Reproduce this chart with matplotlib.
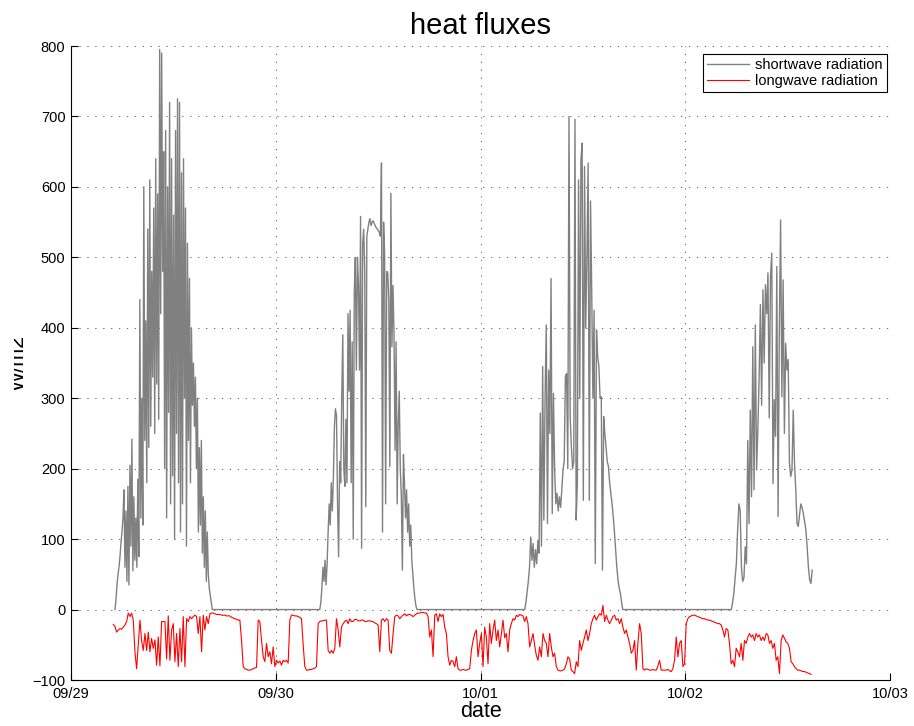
import numpy as np
import matplotlib
matplotlib.use('Agg')
import matplotlib.pyplot as plt
from matplotlib.transforms import Bbox, TransformedBbox

# x axis is in days since 09/29 00:00
date_labels = ['09/29', '09/30', '10/01', '10/02', '10/03']
yticks = [-100, 0, 100, 200, 300, 400, 500, 600, 700, 800]

# shortwave radiation, one burst per day (start day, end day, values W/m2)
sw_day1_span = (0.215, 0.690)
sw_day1 = [0, 15, 35, 50, 60, 75, 95, 110, 130, 170, 60, 140, 40, 175, 35, 205, 90, 242, 55, 160,
           70, 130, 60, 185, 75, 440, 130, 300, 120, 600, 240, 410, 180, 540, 230, 610, 260, 480, 330, 570,
           250, 640, 320, 590, 270, 795, 420, 790, 480, 650, 200, 680, 130, 600, 280, 720, 150, 640, 190, 560,
           100, 680, 250, 725, 180, 720, 110, 620, 150, 640, 300, 570, 90, 520, 240, 470, 180, 400, 290, 350,
           260, 330, 200, 300, 110, 230, 120, 240, 80, 160, 60, 140, 40, 110, 50, 30, 20, 10, 0]

sw_day2_span = (1.215, 1.690)
sw_day2 = [0, 10, 30, 60, 40, 70, 35, 65, 110, 150, 120, 180, 140, 186, 260, 285, 275, 150, 75, 210,
           180, 300, 390, 200, 175, 270, 180, 420, 310, 425, 180, 380, 100, 450, 500, 340, 500, 460, 340, 558,
           87, 520, 540, 480, 146, 530, 540, 550, 555, 545, 550, 552, 548, 545, 542, 540, 538, 535, 530, 634,
           110, 550, 506, 150, 480, 478, 440, 203, 591, 373, 460, 390, 226, 380, 150, 264, 310, 200, 160, 56,
           220, 180, 130, 170, 110, 150, 90, 120, 70, 50, 30, 15, 5, 0]

sw_day3_span = (2.216, 2.695)
sw_day3 = [0, 10, 25, 40, 60, 103, 70, 94, 60, 85, 65, 98, 80, 279, 90, 345, 127, 300, 404, 122,
           340, 250, 470, 136, 307, 200, 150, 165, 140, 160, 145, 170, 198, 210, 331, 335, 200, 700, 274, 231,
           200, 210, 696, 127, 179, 610, 300, 639, 662, 155, 629, 400, 500, 634, 155, 580, 454, 300, 425, 65,
           397, 359, 345, 300, 302, 56, 274, 250, 230, 210, 203, 180, 165, 150, 132, 110, 84, 60, 42, 30,
           23, 10, 0]

sw_day4_span = (3.225, 3.620)
sw_day4 = [0, 10, 23, 45, 65, 113, 150, 141, 60, 40, 45, 89, 65, 240, 122, 283, 160, 373, 170, 404,
           198, 255, 330, 433, 290, 454, 350, 461, 420, 478, 272, 473, 506, 179, 298, 246, 487, 132, 397, 553,
           302, 468, 250, 378, 340, 355, 208, 189, 198, 283, 208, 170, 122, 118, 135, 150, 145, 136, 125, 113,
           89, 60, 42, 37, 56]

# longwave radiation, sampled every ~11.7 min from lw_t0
lw_t0 = 0.2066
lw_dt = 0.008134
longwave = [
    -21, -24, -32, -29, -27, -28, -25, -22, -17, -5, -10, -5, -15, -60, -84, -50, -15, -44, -58, -34,
    -58, -32, -60, -41, -55, -43, -79, -39, -80, -17, -17, -17, -70, -9, -72, -29, -20, -74, -34, -81,
    -27, -74, -10, -81, -13, -17, -10, -13, -10, -8, -10, -34, -10, -60, -8, -29, -10, -20, -6, -5,
    -5, -6, -7, -7, -7, -8, -8, -8, -9, -9, -9, -11, -12, -13, -14, -15, -15, -44, -81, -84,
    -85, -86, -86, -85, -84, -83, -82, -15, -17, -44, -67, -74, -48, -67, -60, -77, -53, -81, -72, -76,
    -73, -79, -72, -74, -72, -76, -15, -8, -8, -9, -9, -10, -11, -13, -50, -81, -86, -86, -85, -85,
    -84, -83, -81, -20, -17, -16, -16, -15, -15, -58, -62, -58, -62, -55, -13, -29, -53, -25, -20, -17,
    -15, -20, -13, -17, -17, -14, -14, -16, -16, -15, -15, -17, -17, -16, -16, -17, -17, -19, -20, -22,
    -60, -15, -13, -17, -13, -15, -58, -62, -34, -10, -8, -9, -13, -10, -8, -6, -9, -7, -7, -8,
    -10, -8, -6, -5, -5, -4, -4, -5, -5, -10, -39, -29, -67, -8, -6, -17, -6, -10, -7, -25,
    -34, -67, -79, -72, -74, -81, -67, -84, -86, -86, -85, -86, -86, -85, -84, -58, -44, -34, -29, -67,
    -48, -34, -81, -25, -39, -77, -20, -48, -29, -15, -44, -29, -53, -35, -15, -40, -34, -60, -29,
    -20, -13, -15, -8, -10, -7, -8, -9, -17, -10, -20, -53, -44, -34, -51, -65, -72, -53, -67, -34,
    -44, -48, -67, -34, -53, -67, -62, -81, -86, -87, -87, -86, -84, -77, -67, -70, -86, -88, -91, -74,
    -81, -44, -58, -48, -39, -29, -44, -34, -20, -13, -8, -15, -10, -6, -8, 6, -17, -8, -15, -20,
    -15, -10, -8, -15, -13, -20, -13, -25, -34, -29, -39, -48, -62, -58, -44, -86, -48, -20, -34, -84,
    -86, -84, -85, -86, -86, -85, -86, -86, -80, -72, -86, -86, -86, -86, -85, -87, -88, -84, -72, -39,
    -67, -48, -44, -81, -77, -20, -13, -10, -9, -8, -8, -9, -10, -11, -12, -13, -13, -14, -15, -15,
    -16, -17, -18, -19, -20, -20, -22, -29, -39, -27, -29, -48, -77, -72, -81, -55, -60, -67, -48, -72,
    -44, -48, -39, -34, -39, -36, -44, -34, -39, -36, -44, -39, -44, -34, -36, -48, -44, -55, -48, -72,
    -67, -91, -44, -36, -41, -46, -48, -55, -74, -77, -81, -84, -86, -86, -87, -88, -88, -89, -90, -91,
    -92]


def burst_times(span, vals) :
    return np.linspace(span[0], span[1], len(vals))

sw_t = np.concatenate([burst_times(sw_day1_span, sw_day1), burst_times(sw_day2_span, sw_day2),
                       burst_times(sw_day3_span, sw_day3), burst_times(sw_day4_span, sw_day4)])
sw_v = np.concatenate([sw_day1, sw_day2, sw_day3, sw_day4])
lw_t = lw_t0 + lw_dt*np.arange(len(longwave))

plt.rcParams['font.family'] = ['Liberation Sans', 'DejaVu Sans']

W, H = 914, 726
fig = plt.figure(figsize=(W/100, H/100), dpi=100)
ax = fig.add_axes([71/W, 46/H, 819/W, 634/H])

ax.plot(sw_t, sw_v, color='#808080', linewidth=1.0, label='shortwave radiation')
ax.plot(lw_t, longwave, color='#ff0000', linewidth=0.8, label='longwave radiation')

ax.set_xlim(0, 4)
ax.set_ylim(-100, 800)
ax.set_xticks(range(len(date_labels)))
ax.set_xticklabels(date_labels)
ax.set_yticks(yticks)
ax.tick_params(direction='in', length=5, width=0.8, labelsize=10.5, top=False, right=False)
ax.tick_params(axis='x', pad=5)
ax.tick_params(axis='y', pad=4)
for side in ['top', 'right'] :
    ax.spines[side].set_visible(False)
for side in ['left', 'bottom'] :
    ax.spines[side].set_linewidth(0.8)
ax.grid(True, linestyle=(0, (1.5, 8)), color='0.3', linewidth=0.6)

ax.set_title('heat fluxes', fontsize=21, pad=9)
ax.set_xlabel('date', fontsize=15.5, labelpad=0)
ax.set_ylabel('W/m2', fontsize=15.5)
ax.yaxis.set_label_coords((29-71)/819, 0.5)
# the y label is cut off at the left edge in the original
lbl = ax.yaxis.label
lbl.set_clip_box(TransformedBbox(Bbox.from_extents(14/W, 0, 1, 1), fig.transFigure))
lbl.set_clip_on(True)

leg = ax.legend(loc='upper right', bbox_to_anchor=((887-71)/819, (680-54)/634), borderaxespad=0,
                fontsize=10.5, handlelength=2.9, handletextpad=0.4, labelspacing=0.1, borderpad=0.3,
                fancybox=False, framealpha=1, edgecolor='black')
leg.get_frame().set_linewidth(0.8)

fig.savefig('out.png', dpi=100)
